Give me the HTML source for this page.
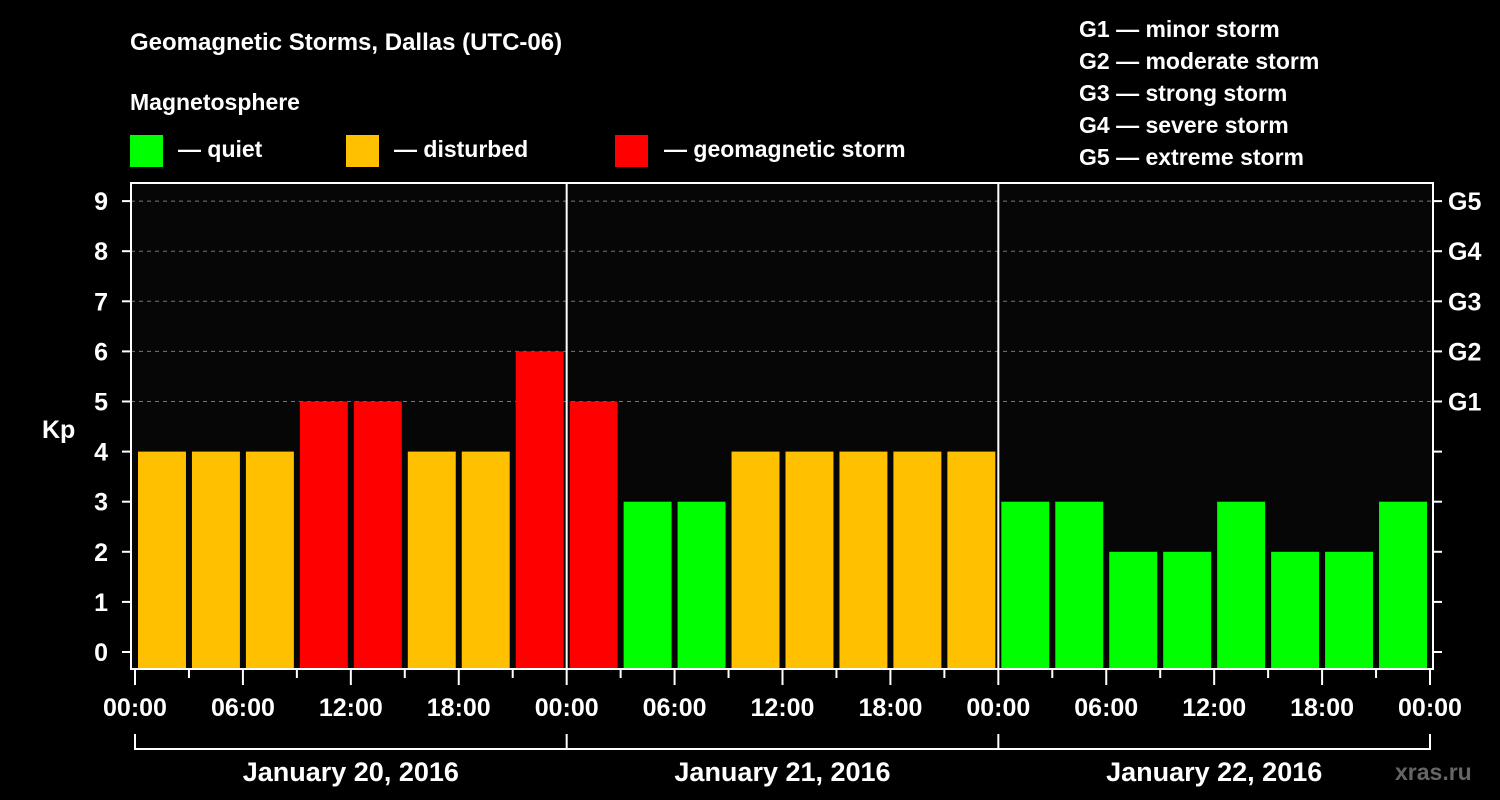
<!DOCTYPE html>
<html><head><meta charset="utf-8"><style>
html,body{margin:0;padding:0;background:#000;}
svg{display:block;font-family:"Liberation Sans",Arial,sans-serif;font-weight:bold;}
</style></head><body>
<svg id="chart" width="1500" height="800" viewBox="0 0 1500 800" xmlns="http://www.w3.org/2000/svg">
<rect width="1500" height="800" fill="#000"/>
<text x="130" y="50" fill="#fff" font-size="24">Geomagnetic Storms, Dallas (UTC-06)</text>
<text x="130" y="110" fill="#fff" font-size="23">Magnetosphere</text>
<g><rect x="130" y="135" width="33" height="32" fill="#00ff00"/><text x="178" y="157" fill="#fff" font-size="23">— quiet</text></g>
<g><rect x="346" y="135" width="33" height="32" fill="#ffc000"/><text x="394" y="157" fill="#fff" font-size="23">— disturbed</text></g>
<g><rect x="615" y="135" width="33" height="32" fill="#ff0000"/><text x="664" y="157" fill="#fff" font-size="23">— geomagnetic storm</text></g>
<g fill="#fff" font-size="23">
<text x="1079" y="37">G1 — minor storm</text>
<text x="1079" y="69">G2 — moderate storm</text>
<text x="1079" y="101">G3 — strong storm</text>
<text x="1079" y="133">G4 — severe storm</text>
<text x="1079" y="165">G5 — extreme storm</text>
</g>
<rect x="131" y="183" width="1302" height="486" fill="#060606"/>
<g id="grid"></g>
<g id="bars"></g>
<g id="axes"></g>
<text x="42" y="438" fill="#fff" font-size="25">Kp</text>
<text x="1395" y="780" fill="#666" font-size="23">xras.ru</text>
</svg>
<script>
const day1 = [4,4,4,5,5,4,4,6];
const day2 = [5,3,3,4,4,4,4,4];
const day3 = [3,3,2,2,3,2,2,3];
const kpValues = day1.concat(day2, day3);
const yTicks = [0,1,2,3,4,5,6,7,8,9];
const gLabels = ["G1","G2","G3","G4","G5"];
const gLevels = [5,6,7,8,9];
const xTickLabels = ["00:00","06:00","12:00","18:00","00:00","06:00","12:00","18:00","00:00","06:00","12:00","18:00","00:00"];
const dayLabels = ["January 20, 2016","January 21, 2016","January 22, 2016"];

const NS = "http://www.w3.org/2000/svg";
const x0 = 135, x1 = 1430, totalHours = 72;
const xScale = h => x0 + (x1 - x0) * h / totalHours;
const yScale = v => 652 - v * 50.1;
const plotBottom = 668;
function mk(tag, attrs, parent){const e=document.createElementNS(NS,tag);for(const k in attrs)e.setAttribute(k,attrs[k]);parent.appendChild(e);return e;}
const grid=document.getElementById('grid'), bars=document.getElementById('bars'), axes=document.getElementById('axes');

gLevels.forEach((lv,i)=>{
  const l=mk('line',{x1:131,x2:1433,y1:yScale(lv),y2:yScale(lv),stroke:'#777','stroke-dasharray':'4,4','stroke-width':1},grid);
  
  
  const t=mk('text',{x:1448,y:yScale(lv)+9,fill:'#fff','font-size':25},axes);
  t.textContent=gLabels[i];
  
  
});

kpValues.forEach((v,i)=>{
  const c = v>=5 ? '#ff0000' : (v>=4 ? '#ffc000' : '#00ff00');
  const xs = xScale(i*3)+3, xe = xScale(i*3+3)-3;
  const r=mk('rect',{x:xs,y:yScale(v),width:xe-xs,height:plotBottom-yScale(v),fill:c},bars);
  
  
});

// day separators
[24,48].forEach(h=>{
  const l=mk('line',{x1:xScale(h),x2:xScale(h),y1:183,y2:669,stroke:'#fff','stroke-width':2},axes);
  
  
});
// frame
const f=mk('rect',{x:131,y:183,width:1302,height:486,fill:'none',stroke:'#fff','stroke-width':2},axes);



yTicks.forEach(v=>{
  mk('line',{x1:122,x2:131,y1:yScale(v),y2:yScale(v),stroke:'#fff','stroke-width':2},axes);
  mk('line',{x1:1433,x2:1442,y1:yScale(v),y2:yScale(v),stroke:'#fff','stroke-width':2},axes);
  const t=mk('text',{x:108,y:yScale(v)+9,fill:'#fff','font-size':25,'text-anchor':'end'},axes);
  t.textContent=v;
  
  
});

for(let h=0;h<=72;h+=3){
  const major = h%6===0;
  mk('line',{x1:xScale(h),x2:xScale(h),y1:669,y2:major?685:678,stroke:'#fff','stroke-width':2},axes);
}
xTickLabels.forEach((s,i)=>{
  const t=mk('text',{x:xScale(i*6),y:716,fill:'#fff','font-size':25,'text-anchor':'middle'},axes);
  t.textContent=s;
  
  
});
// day brackets
mk('line',{x1:x0,x2:x1,y1:749,y2:749,stroke:'#fff','stroke-width':2},axes);
[0,24,48,72].forEach(h=>mk('line',{x1:xScale(h),x2:xScale(h),y1:734,y2:750,stroke:'#fff','stroke-width':2},axes));
dayLabels.forEach((s,i)=>{
  const t=mk('text',{x:xScale(i*24+12),y:781,fill:'#fff','font-size':27,'text-anchor':'middle'},axes);
  t.textContent=s;
  
  
});
</script>
</body></html>
